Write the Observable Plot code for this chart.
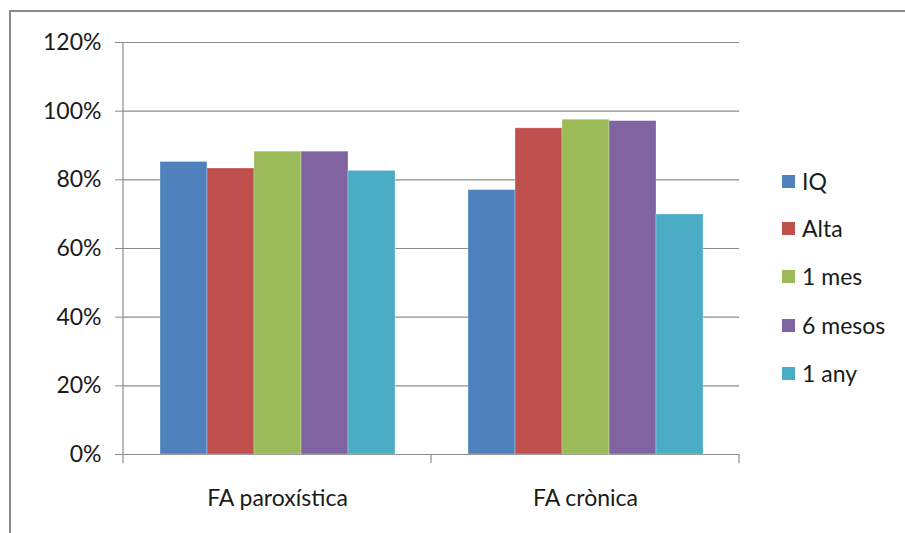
<!DOCTYPE html>
<html>
<head>
<meta charset="utf-8">
<script src="https://cdn.jsdelivr.net/npm/d3@7"></script>
<script src="https://cdn.jsdelivr.net/npm/@observablehq/plot@0.6"></script>
<style>
  html, body { margin: 0; padding: 0; background: #fff; overflow: hidden; }
  #wrap { position: relative; width: 905px; height: 533px; }
  #border { position: absolute; left: 9px; top: 10px; width: 905px; height: 533px;
            border-top: 2px solid #8a8a8a; border-left: 2px solid #8a8a8a; box-sizing: border-box; pointer-events: none; }
  #legend { position: absolute; left: 782px; top: 0; font-family: Lato, sans-serif; font-size: 23px; color: #1a1a1a; }
  .item { position: absolute; left: 0; white-space: nowrap; display: flex; align-items: center; height: 30px; }
  .sw { width: 13px; height: 13px; margin-right: 7px; flex: none; }
</style>
</head>
<body>
<div id="wrap"><div id="border"></div><div id="legend"></div></div>
<script>
const groups = ["FA paroxística", "FA crònica"];
const series = ["IQ", "Alta", "1 mes", "6 mesos", "1 any"];
const paroxistica = [85.2, 83.3, 88.2, 88.2, 82.6];
const cronica = [77.0, 95.0, 97.5, 97.1, 69.9];
const colors = ["#4F81BD", "#C0504D", "#9BBB59", "#8064A2", "#4BACC6"];
const yTicks = [0, 20, 40, 60, 80, 100, 120];

const valuesByGroup = [paroxistica, cronica];
const data = groups.flatMap((g, gi) => series.map((s, si) => ({group: g, series: s, value: valuesByGroup[gi][si]})));

const chart = Plot.plot({
  width: 905,
  height: 533,
  marginLeft: 123,
  marginRight: 166,
  marginTop: 42,
  marginBottom: 79,
  style: {fontFamily: "Lato, sans-serif", fontSize: "23px", color: "#1a1a1a", background: "transparent"},
  fx: {domain: groups, paddingInner: 0, paddingOuter: 0, label: null},
  x: {domain: series, paddingInner: 0, paddingOuter: 0.77, axis: null},
  y: {domain: [0, 120], label: null},
  color: {domain: series, range: colors},
  marks: [
    Plot.gridY(yTicks, {stroke: "#8c8c8c", strokeOpacity: 1, strokeWidth: 1.2}),
    Plot.barY(data, {fx: "group", x: "series", y: "value", fill: "series", stroke: "white", strokeOpacity: 0.35, strokeWidth: 0.8}),
    Plot.axisY(yTicks, {tickSize: 8, tickPadding: 14, stroke: "#8c8c8c", tickFormat: d => d + "%", fontSize: 23, label: null}),
    Plot.axisFx({anchor: "bottom", tickSize: 0, tickPadding: 35, fontSize: 23, label: null})
  ]
});

// category boundary ticks and y-axis line, placed from the library's scales
const fx = chart.scale("fx");
const y = chart.scale("y");
const bounds = groups.map(g => fx.apply(g)).concat([fx.apply(groups[groups.length - 1]) + fx.bandwidth]);
const svg = d3.select(chart);
const y0 = y.apply(0), yTop = y.apply(120);
bounds.forEach((bx, i) => {
  svg.append("line")
    .attr("x1", bx).attr("x2", bx)
    .attr("y1", i === 0 ? yTop : y0).attr("y2", y0 + 9)
    .attr("stroke", "#8c8c8c").attr("stroke-width", 1.2);
});
document.getElementById("wrap").prepend(chart);

// legend
const color = chart.scale("color");
const legend = document.getElementById("legend");
const legendY = [181, 228, 276, 325, 373];
series.forEach((s, i) => {
  const item = document.createElement("div");
  item.className = "item";
  item.style.top = (legendY[i] - 15) + "px";
  const sw = document.createElement("div");
  sw.className = "sw";
  sw.style.background = color.apply(s);
  const t = document.createElement("span");
  t.textContent = s;
  item.appendChild(sw); item.appendChild(t);
  legend.appendChild(item);
});
</script>
</body>
</html>
